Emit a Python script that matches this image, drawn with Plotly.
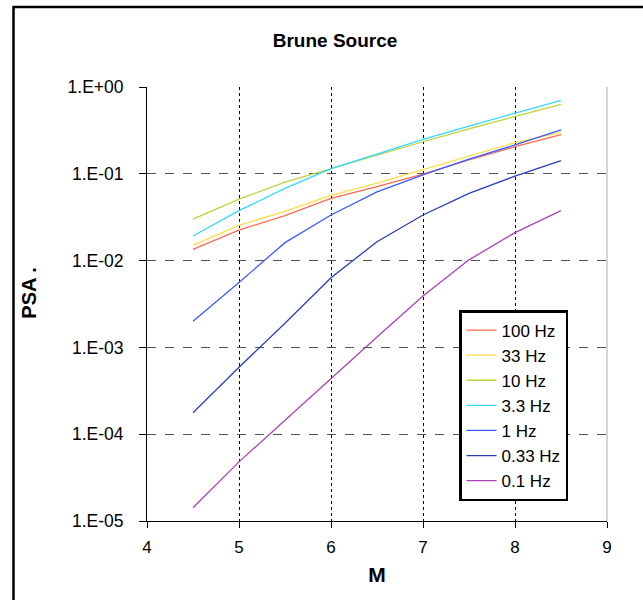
import plotly.graph_objects as go

# Magnitude samples
magnitude = [4.5, 5.0, 5.5, 6.0, 6.5, 7.0, 7.5, 8.0, 8.5]

# Pseudo-spectral acceleration (g) for each oscillator frequency
psa_100hz = [0.0135, 0.0225, 0.033, 0.052, 0.071, 0.099, 0.145, 0.205, 0.282]
psa_33hz = [0.0151, 0.0255, 0.037, 0.0565, 0.078, 0.112, 0.160, 0.228, 0.300]
psa_10hz = [0.030, 0.051, 0.080, 0.115, 0.165, 0.234, 0.330, 0.455, 0.632]
psa_3_3hz = [0.0192, 0.0376, 0.068, 0.115, 0.168, 0.250, 0.355, 0.497, 0.703]
psa_1hz = [0.0020, 0.0056, 0.0161, 0.0335, 0.062, 0.097, 0.148, 0.215, 0.320]
psa_0_33hz = [0.000177, 0.00059, 0.0019, 0.00635, 0.0165, 0.0335, 0.0596, 0.094, 0.142]
psa_0_1hz = [0.0000142, 0.000048, 0.000145, 0.00044, 0.00132, 0.0039, 0.0102, 0.021, 0.0376]

series_names = ["100 Hz", "33 Hz", "10 Hz", "3.3 Hz", "1 Hz", "0.33 Hz", "0.1 Hz"]
series_values = [psa_100hz, psa_33hz, psa_10hz, psa_3_3hz, psa_1hz, psa_0_33hz, psa_0_1hz]
series_colors = ["#FF6A4D", "#FFDD44", "#BCD23A", "#33D9FF", "#3A5CFF", "#2A3FB8", "#A844B4"]

# Axis ticks
x_ticks = [4, 5, 6, 7, 8, 9]
y_tickvals = [1e-5, 1e-4, 1e-3, 1e-2, 1e-1, 1e0]
y_ticktext = ["1.E-05", "1.E-04", "1.E-03", "1.E-02", "1.E-01", "1.E+00"]

font_family = "Liberation Sans, Arial, sans-serif"
# Leading padding (zero-width space + non-breaking spaces) lifts the rotated y title
y_title_pad = "\u200b" + "\u00a0" * 4

fig = go.Figure()
for name, vals, color in zip(series_names, series_values, series_colors):
    fig.add_trace(go.Scatter(
        x=magnitude, y=vals, name=name, mode="lines",
        line=dict(color=color, width=1.3),
    ))

fig.update_layout(
    width=643, height=600,
    margin=dict(l=147, r=36, t=87, b=79),
    paper_bgcolor="white", plot_bgcolor="white",
    font=dict(family=font_family, color="black"),
    title=dict(text="<b>Brune Source</b>", x=(335 / 643), xanchor="center",
               y=1 - 40 / 600, yanchor="middle", font=dict(size=19)),
    showlegend=True,
    legend=dict(
        x=(459 - 147) / 460, y=(521 - 310) / 434, xanchor="left", yanchor="top",
        bgcolor="white", bordercolor="black", borderwidth=2.5,
        font=dict(size=17), tracegroupgap=0, itemwidth=30,
    ),
)

fig.update_xaxes(
    range=[4, 9], tickvals=x_ticks, ticks="outside", ticklen=6, tickcolor="black",
    showline=True, linecolor="black", linewidth=1,
    showgrid=True, gridcolor="black", griddash="dot", gridwidth=1,
    tickfont=dict(size=17), ticklabelstandoff=5, zeroline=False,
    title=dict(text="<b>M</b>", font=dict(size=21), standoff=10),
)
fig.update_yaxes(
    type="log", range=[-5, 0], tickvals=y_tickvals, ticktext=y_ticktext,
    ticks="outside", ticklen=7, tickcolor="black",
    showline=True, linecolor="black", linewidth=1,
    showgrid=True, gridcolor="#555555", griddash="dash", gridwidth=1,
    tickfont=dict(size=17.5), ticklabelstandoff=12, zeroline=False,
    title=dict(text=y_title_pad + "<b>PSA .</b>", font=dict(size=20), standoff=25),
)

# Light grey right border of the plot area
fig.add_shape(type="line", xref="paper", yref="paper", x0=1, x1=1, y0=0, y1=1,
              line=dict(color="#AAAAAA", width=1))
# Outer chart frame
fig.add_shape(type="rect", xref="paper", yref="paper",
              x0=(13.5 - 147) / 460, x1=(660 - 147) / 460,
              y0=(521 - 620) / 434, y1=(521 - 7) / 434,
              line=dict(color="black", width=2.5), layer="below")

fig.write_html("out.html")
